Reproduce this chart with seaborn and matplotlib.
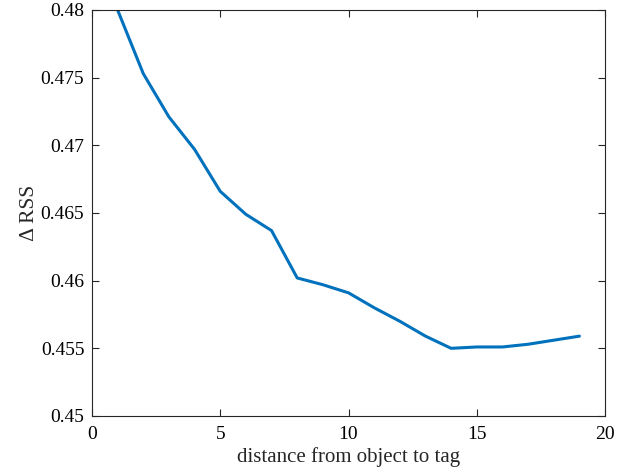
import numpy as np
import pandas as pd
import seaborn as sns
import matplotlib
matplotlib.use("Agg")
import matplotlib.pyplot as plt

# distance from object to tag vs. change in RSS
distance = [1, 2, 3, 4, 5, 6, 7, 8, 9, 10, 11, 12, 13, 14, 15, 16, 17, 18, 19]
delta_rss = [0.4800, 0.4753, 0.4721, 0.4697, 0.4666, 0.4649, 0.4637, 0.4602,
             0.4597, 0.4591, 0.4580, 0.4570, 0.4559, 0.4550, 0.4551, 0.4551,
             0.4553, 0.4556, 0.4559]
x_ticks = [0, 5, 10, 15, 20]
y_ticks = [0.45, 0.455, 0.46, 0.465, 0.47, 0.475, 0.48]
y_tick_labels = ["0.45", "0.455", "0.46", "0.465", "0.47", "0.475", "0.48"]

df = pd.DataFrame({"distance": distance, "delta_rss": delta_rss})

sns.set_style("ticks")
plt.rcParams["font.family"] = ["Liberation Serif", "DejaVu Serif"]

fig = plt.figure(figsize=(6.43, 4.71), dpi=100)
ax = fig.add_axes([0.143, 0.1168, 0.798, 0.862])

sns.lineplot(data=df, x="distance", y="delta_rss", ax=ax,
             color="#0072BD", linewidth=2.2)

ax.set_xlim(0, 20)
ax.set_ylim(0.45, 0.48)
ax.set_xticks(x_ticks)
ax.set_xticklabels([str(t) for t in x_ticks])
ax.set_yticks(y_ticks)
ax.set_yticklabels(y_tick_labels)

ax.tick_params(direction="in", length=5, width=0.8, top=True, right=True,
               labelsize=14, colors="#262626", labelcolor="black")
ax.tick_params(axis="x", pad=7.5)
ax.tick_params(axis="y", pad=5.5)
for spine in ax.spines.values():
    spine.set_visible(True)
    spine.set_linewidth(0.8)
    spine.set_color("#262626")

ax.set_xlabel("distance from object to tag", fontsize=15, labelpad=3)
ax.set_ylabel("Δ RSS", fontsize=15.5, labelpad=1.5)

fig.savefig("out.png", dpi=100)
